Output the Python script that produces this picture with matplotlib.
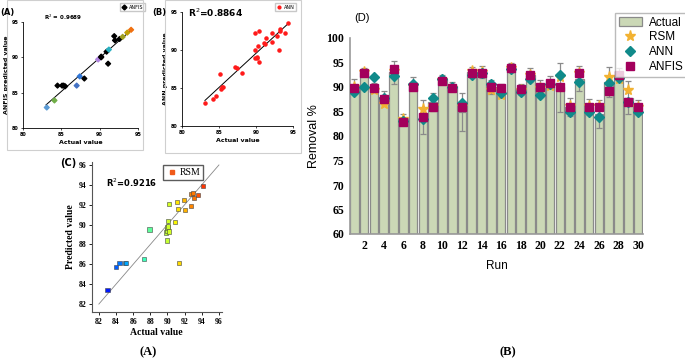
import numpy as np
import matplotlib.pyplot as plt
from matplotlib.patches import Rectangle, Patch
from matplotlib.lines import Line2D

# ---------------- data ----------------
runs = np.arange(1, 31)
actual = [90.4, 93.1, 90.1, 88.0, 93.0, 83.7, 90.7, 83.9, 86.9, 91.7,
          90.2, 84.9, 93.1, 93.1, 90.0, 89.3, 94.0, 89.5, 92.4, 89.7,
          91.0, 89.9, 85.9, 91.7, 85.9, 84.5, 91.0, 92.4, 87.8, 85.9]
err = [1.2, 0.8, 0.8, 1.1, 2.3, 0.8, 1.4, 3.5, 1.9, 0.7,
       0.8, 3.9, 0.9, 1.2, 1.5, 1.3, 0.9, 1.2, 1.4, 1.8,
       1.2, 5.0, 1.9, 2.6, 1.7, 2.8, 3.1, 1.4, 3.4, 1.5]
rsm = [90.0, 93.0, 89.4, 86.6, 93.2, 83.4, 90.3, 85.6, 86.1, 91.5,
       89.8, 86.1, 93.2, 93.1, 89.4, 88.4, 93.9, 89.3, 92.5, 89.8,
       90.2, 92.1, 86.1, 92.8, 86.1, 86.1, 92.1, 91.6, 89.3, 86.0]
ann = [89.0, 89.9, 92.1, 87.8, 92.3, 83.0, 90.6, 83.5, 87.8, 91.7,
       89.9, 86.7, 92.4, 92.8, 90.6, 88.8, 93.6, 89.0, 91.7, 88.3,
       90.7, 92.4, 84.9, 91.0, 84.9, 83.9, 90.8, 91.9, 86.9, 84.9]
anfis = [89.8, 92.8, 89.8, 87.5, 93.6, 82.8, 90.0, 83.9, 85.9, 91.2,
         89.7, 85.9, 92.9, 92.9, 89.9, 89.7, 93.8, 89.5, 92.5, 90.0,
         90.8, 89.9, 85.9, 92.9, 85.9, 85.9, 89.1, 92.4, 86.9, 85.9]

# panel A (ANFIS scatter)
anfis_x = [83.1, 84.1, 84.5, 85.1, 85.3, 85.5, 87.0, 87.4, 88.0, 89.8, 90.2, 90.2,
           91.1, 90.9, 91.2, 91.9, 92.0, 92.6, 93.0, 93.6, 94.1]
anfis_y = [82.9, 83.9, 86.0, 86.0, 86.0, 85.9, 86.0, 87.3, 87.0, 89.7, 90.0, 90.1,
           89.1, 90.8, 91.1, 93.0, 92.4, 92.6, 92.9, 93.5, 93.9]
anfis_c = ['#5b9bd5', '#70ad47', 'k', 'k', 'k', 'k', '#4472c4', '#2e75d6', 'k', '#b084e0',
           'k', 'k', 'k', 'k', '#2ab0c0', 'k', 'k', 'k', '#a0a020', '#c0a000', '#f07010']

# panel B (ANN scatter)
ann_x = [83.1, 84.2, 84.6, 85.3, 85.4, 85.6, 85.2, 87.2, 87.4, 88.1, 89.9, 90.4,
         89.9, 90.3, 89.9, 90.1, 90.2, 90.4, 91.1, 91.2, 91.4, 92.2, 92.1, 92.9,
         93.1, 93.2, 93.3, 93.9, 94.3]
ann_y = [83.0, 83.6, 83.9, 84.9, 85.1, 85.1, 86.8, 87.8, 87.6, 87.0, 92.2, 92.5,
         90.0, 90.5, 89.0, 88.9, 89.1, 88.4, 90.9, 90.8, 91.6, 92.2, 91.0, 91.9,
         90.0, 92.5, 92.7, 92.2, 93.5]

# panel C (RSM scatter)
rsm_x = [83.0, 84.0, 84.4, 85.0, 85.2, 87.3, 87.9, 89.8, 89.9, 90.0, 90.1, 89.9,
         90.2, 90.1, 90.2, 90.9, 91.1, 91.2, 91.3, 91.9, 92.0, 92.7, 92.8, 93.0,
         93.05, 93.6, 94.1]
rsm_y = [83.4, 85.7, 86.1, 86.1, 86.1, 86.5, 89.5, 89.2, 89.4, 89.7, 89.8, 88.4,
         89.3, 90.4, 92.1, 90.3, 92.3, 91.6, 86.1, 92.5, 91.5, 91.9, 93.1, 93.2,
         92.7, 93.0, 93.9]

W, H = 685, 358
fig = plt.figure(figsize=(6.85, 3.58), dpi=100)


def ax_at(x0, y0, x1, y1):
    # pixel box -> figure axes
    return fig.add_axes([x0 / W, 1 - y1 / H, (x1 - x0) / W, (y1 - y0) / H])


def ftext(x, y, s, **kw):
    fig.text(x / W, 1 - y / H, s, **kw)


def frame(x0, y0, x1, y1):
    fig.add_artist(Rectangle((x0 / W, 1 - y1 / H), (x1 - x0) / W, (y1 - y0) / H,
                             transform=fig.transFigure, fill=False,
                             edgecolor='#cfcfcf', lw=0.8))


def small_axes(ax):
    for s in ['top', 'right']:
        ax.spines[s].set_visible(False)
    for s in ['left', 'bottom']:
        ax.spines[s].set_linewidth(0.6)
    ax.set_xlim(80, 95)
    ax.set_ylim(80, 95)
    ax.set_xticks([80, 85, 90, 95])
    ax.set_yticks([80, 85, 90, 95])
    ax.tick_params(labelsize=3.5, length=1.5, width=0.5, pad=1.5)
    for lab in ax.get_xticklabels() + ax.get_yticklabels():
        lab.set_fontweight('bold')


# ---------------- panel A: ANFIS ----------------
frame(7, 0, 143, 150)
axA = ax_at(23, 22, 138, 128)
small_axes(axA)
p = np.polyfit(anfis_x, anfis_y, 1)
xx = np.array([83.0, 94.2])
axA.plot(xx, np.polyval(p, xx), color='k', lw=0.7)
axA.scatter(anfis_x, anfis_y, c=anfis_c, marker='D', s=6, zorder=3)
axA.set_xlabel('Actual value', fontsize=4.5, fontweight='bold', labelpad=2)
axA.set_ylabel('ANFIS predicted value', fontsize=4.5, fontweight='bold', labelpad=2)
axA.legend([Line2D([], [], ls='', marker='D', color='k', ms=2.5)], ['ANFIS'],
           loc='upper left', bbox_to_anchor=(118 / W, 1 - 1 / H), bbox_transform=fig.transFigure,
           fontsize=3.5, frameon=True, fancybox=False, edgecolor='#bbbbbb',
           handlelength=1, borderpad=0.3, handletextpad=0.4)
ftext(63, 17, 'R$^2$ = 0.9689', fontsize=4, fontweight='bold', ha='center', va='center')
ftext(0, 13, '(A)', fontsize=6, fontweight='bold', va='center')

# ---------------- panel B: ANN ----------------
frame(165, 0, 301, 153)
axB = ax_at(182, 12, 293, 126)
small_axes(axB)
p = np.polyfit(ann_x, ann_y, 1)
xx = np.array([83.1, 94.3])
axB.plot(xx, np.polyval(p, xx), color='k', lw=0.7)
axB.scatter(ann_x, ann_y, color='#ff1a1a', marker='o', s=5, zorder=3)
axB.set_xlabel('Actual value', fontsize=4.5, fontweight='bold', labelpad=2)
axB.set_ylabel('ANN predicted value', fontsize=4.5, fontweight='bold', labelpad=2)
axB.legend([Line2D([], [], ls='', marker='o', color='#ff1a1a', ms=2)], ['ANN'],
           loc='upper left', bbox_to_anchor=(273 / W, 1 - 1 / H), bbox_transform=fig.transFigure,
           fontsize=3.5, frameon=True, fancybox=False, edgecolor='#bbbbbb',
           handlelength=1, borderpad=0.3, handletextpad=0.4)
ftext(216, 13, 'R$^2$=0.8864', fontsize=6.5, fontweight='bold', ha='center', va='center')
ftext(152, 13, '(B)', fontsize=6, fontweight='bold', va='center')

# ---------------- panel C: RSM ----------------
serif = 'Liberation Serif'
axC = ax_at(92, 162, 221.5, 312)
for s in ['top', 'right']:
    axC.spines[s].set_visible(False)
for s in ['left', 'bottom']:
    axC.spines[s].set_color('#555555')
    axC.spines[s].set_linewidth(0.8)
axC.set_xlim(81.2, 96.3)
axC.set_ylim(81.2, 96.3)
axC.set_xticks(np.arange(82, 97, 2))
axC.set_yticks(np.arange(82, 97, 2))
axC.tick_params(labelsize=5.5, length=2, width=0.6, pad=2)
for lab in axC.get_xticklabels() + axC.get_yticklabels():
    lab.set_fontweight('bold')
    lab.set_family(serif)
axC.plot([82, 96], [82, 96], color='#888888', lw=0.6)
axC.scatter(rsm_x, rsm_y, c=rsm_x, cmap='jet', vmin=80.6, vmax=96.4, marker='s',
            s=9, edgecolors='#444444', linewidths=0.4, zorder=3)
axC.set_xlabel('Actual value', fontsize=7, fontweight='bold', family=serif, labelpad=2)
axC.set_ylabel('Predicted value', fontsize=7, fontweight='bold', family=serif, labelpad=3)
axC.legend([Line2D([], [], ls='', marker='s', color='#f05a1a', ms=2.5)], ['RSM'],
           loc='upper left', bbox_to_anchor=(163 / W, 1 - 165 / H), bbox_transform=fig.transFigure,
           prop={'family': serif, 'size': 7}, frameon=True, fancybox=False,
           edgecolor='#333333', handlelength=1.3, borderpad=0.3, handletextpad=0.1,
           borderaxespad=0)
ftext(106, 183, 'R$^2$=0.9216', fontsize=6, fontweight='bold', va='center')
ftext(60, 163, '(C)', fontsize=7, fontweight='bold', va='center')
ftext(148, 352, '(A)', fontsize=9, fontweight='bold', family=serif, ha='center', va='center')

# ---------------- panel D: bars ----------------
axD = ax_at(350, 38, 643, 234)
h_act = axD.bar(runs, [a - 60 for a in actual], bottom=60, width=0.88, color='#cbd8b6',
                edgecolor='#8a8a8a', linewidth=0.9, zorder=1)
axD.errorbar(runs, actual, yerr=err, fmt='none', ecolor='#8a8a8a', elinewidth=0.9,
             capsize=2.5, capthick=0.9, zorder=2)
h_rsm, = axD.plot(runs, rsm, ls='', marker='*', ms=8, color='#f2b232', zorder=3)
h_ann, = axD.plot(runs, ann, ls='', marker='D', ms=5.5, color='#108a8a', zorder=4)
h_anfis, = axD.plot(runs, anfis, ls='', marker='s', ms=5.5, color='#a3005c', zorder=5)
axD.set_xlim(0.55, 30.5)
axD.set_ylim(60, 100)
axD.set_yticks(np.arange(60, 101, 5))
axD.set_xticks(np.arange(2, 31, 2))
for s in ['top', 'right']:
    axD.spines[s].set_visible(False)
for s in ['left', 'bottom']:
    axD.spines[s].set_color('#999999')
    axD.spines[s].set_linewidth(1.2)
axD.tick_params(length=0, labelsize=8.5, pad=4)
for lab in axD.get_xticklabels() + axD.get_yticklabels():
    lab.set_fontweight('bold')
    lab.set_family(serif)
axD.set_ylabel('Removal %', fontsize=9, family='Liberation Sans', labelpad=5)
axD.set_xlabel('Run', fontsize=8.5, family='Liberation Sans', labelpad=6)
axD.legend([h_act, h_rsm, h_ann, h_anfis], ['Actual', 'RSM', 'ANN', 'ANFIS'],
           loc='upper left', bbox_to_anchor=(615 / W, 1 - 13 / H), bbox_transform=fig.transFigure,
           prop={'family': 'Liberation Sans', 'size': 8.5}, frameon=True, fancybox=False,
           edgecolor='#aaaaaa', borderpad=0.3, labelspacing=0.25, handlelength=2,
           handletextpad=0.6, borderaxespad=0)
ftext(354, 18, '(D)', fontsize=8, family='Liberation Sans', va='center')
ftext(508, 352, '(B)', fontsize=9, fontweight='bold', family=serif, ha='center', va='center')

fig.savefig('out.png', dpi=100)
